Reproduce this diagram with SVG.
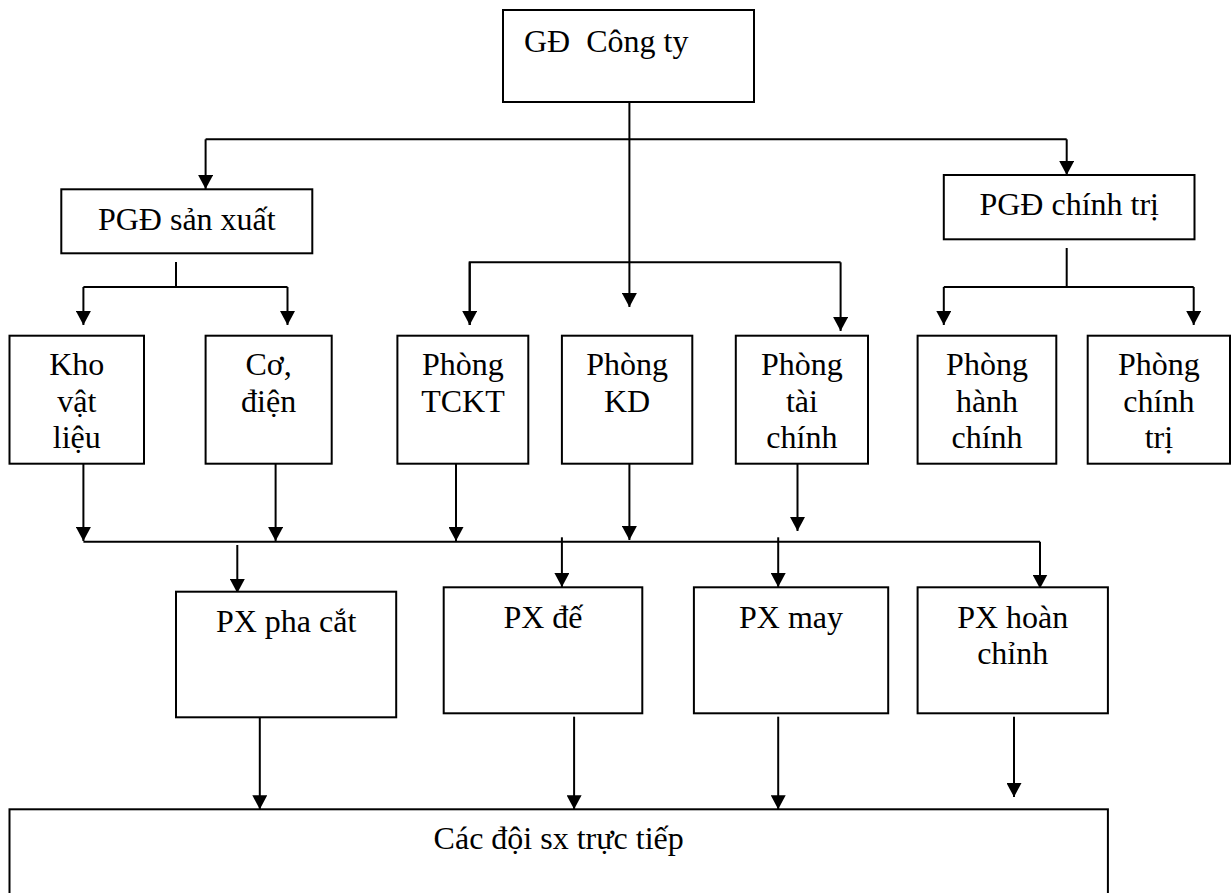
<svg xmlns="http://www.w3.org/2000/svg" width="1232" height="893" viewBox="0 0 1232 893">
<style>
.box{fill:#fff;stroke:#000;stroke-width:2}
.t{font-family:"Liberation Serif","Times New Roman",serif;font-size:32px;fill:#000;text-anchor:middle}
.ln{fill:none;stroke:#000;stroke-width:2}
.ar{fill:none;stroke:#000;stroke-width:2;marker-end:url(#ah)}
</style>
<defs>
<marker id="ah" markerUnits="userSpaceOnUse" markerWidth="15" markerHeight="15" refX="14" refY="7.5" orient="auto">
<path d="M0,0 L14,7.5 L0,15 z" fill="#000"/>
</marker>
</defs>
<rect width="1232" height="893" fill="#fff"/>
<g id="connectors">
<path class="ar" d="M629.4,102 V307"/>
<path class="ln" d="M205.6,139.3 H1066.7"/>
<path class="ar" d="M205.6,139.3 V189"/>
<path class="ar" d="M1066.7,139.3 V175"/>
<path class="ln" d="M176,262 V287 M83.4,287 H287.5"/>
<path class="ar" d="M83.4,287 V325"/>
<path class="ar" d="M287.5,287 V325"/>
<path class="ln" d="M469.7,325 V262.3 H840.6"/>
<path class="ar" d="M469.7,262.3 V325"/>
<path class="ar" d="M840.6,262.3 V331"/>
<path class="ln" d="M1066.7,248 V287 M943.8,287 H1193.7"/>
<path class="ar" d="M943.8,287 V325"/>
<path class="ar" d="M1193.7,287 V325"/>
<path class="ar" d="M83.4,463.7 V541"/>
<path class="ar" d="M275.6,463.7 V541"/>
<path class="ar" d="M456,463.7 V541"/>
<path class="ar" d="M629.4,463.7 V540"/>
<path class="ar" d="M797.5,463.7 V531"/>
<path class="ln" d="M83.4,541.7 H1040"/>
<path class="ar" d="M1040,541.7 V588.5"/>
<path class="ar" d="M237.3,545 V593"/>
<path class="ar" d="M561.9,537.3 V587"/>
<path class="ar" d="M778.2,537.3 V587"/>
<path class="ar" d="M259.8,716.7 V809.3"/>
<path class="ar" d="M574.1,716.7 V809.3"/>
<path class="ar" d="M778.2,716.7 V809.3"/>
<path class="ar" d="M1014,716.7 V797"/>
</g>
<g id="gd">
<rect class="box" x="503" y="10" width="251" height="92"/>
<text class="t" x="524" y="52" style="text-anchor:start" xml:space="preserve">GĐ  Công ty</text>
</g>
<g id="pgd-sx">
<rect class="box" x="61.3" y="189.3" width="251" height="64"/>
<text class="t" x="186.8" y="230">PGĐ sản xuất</text>
</g>
<g id="pgd-ct">
<rect class="box" x="943.8" y="175" width="250.7" height="64.3"/>
<text class="t" x="1069.2" y="215">PGĐ chính trị</text>
</g>
<g id="kho">
<rect class="box" x="9.5" y="335.7" width="134.5" height="128"/>
<text class="t" x="76.8" y="375">Kho</text>
<text class="t" x="76.8" y="411.7">vật</text>
<text class="t" x="76.8" y="448">liệu</text>
</g>
<g id="co-dien">
<rect class="box" x="205.6" y="335.7" width="126.1" height="128"/>
<text class="t" x="268.6" y="375">Cơ,</text>
<text class="t" x="268.6" y="411.7">điện</text>
</g>
<g id="tckt">
<rect class="box" x="397.4" y="335.7" width="130.9" height="128"/>
<text class="t" x="462.9" y="375">Phòng</text>
<text class="t" x="462.9" y="411.7">TCKT</text>
</g>
<g id="kd">
<rect class="box" x="561.9" y="335.7" width="130.4" height="128"/>
<text class="t" x="627.1" y="375">Phòng</text>
<text class="t" x="627.1" y="411.7">KD</text>
</g>
<g id="tai-chinh">
<rect class="box" x="735.8" y="335.7" width="132.2" height="128"/>
<text class="t" x="801.9" y="375">Phòng</text>
<text class="t" x="801.9" y="411.7">tài</text>
<text class="t" x="801.9" y="448">chính</text>
</g>
<g id="hanh-chinh">
<rect class="box" x="917.6" y="335.7" width="138.7" height="128"/>
<text class="t" x="987" y="375">Phòng</text>
<text class="t" x="987" y="411.7">hành</text>
<text class="t" x="987" y="448">chính</text>
</g>
<g id="chinh-tri">
<rect class="box" x="1087.7" y="335.7" width="142.3" height="128"/>
<text class="t" x="1158.9" y="375">Phòng</text>
<text class="t" x="1158.9" y="411.7">chính</text>
<text class="t" x="1158.9" y="448">trị</text>
</g>
<g id="px-pha-cat">
<rect class="box" x="176" y="591.7" width="220.2" height="125.6"/>
<text class="t" x="286.1" y="631.7">PX pha cắt</text>
</g>
<g id="px-de">
<rect class="box" x="443.7" y="587.3" width="198.6" height="126"/>
<text class="t" x="543" y="628.3">PX đế</text>
</g>
<g id="px-may">
<rect class="box" x="693.9" y="587.3" width="194.3" height="126"/>
<text class="t" x="791" y="628.3">PX may</text>
</g>
<g id="px-hoan-chinh">
<rect class="box" x="917.6" y="587.3" width="190.3" height="126"/>
<text class="t" x="1012.7" y="628.3">PX hoàn</text>
<text class="t" x="1012.7" y="664">chỉnh</text>
</g>
<g id="doi-sx">
<rect class="box" x="9.5" y="809.3" width="1098.4" height="100"/>
<text class="t" x="558.7" y="849.3">Các đội sx trực tiếp</text>
</g>
</svg>
